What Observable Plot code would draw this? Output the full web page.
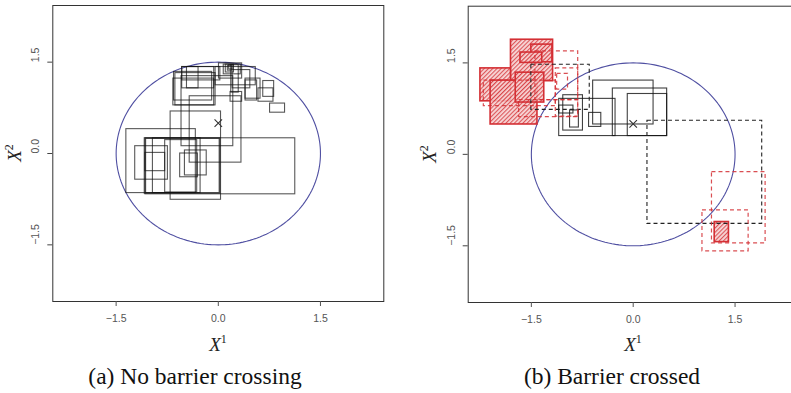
<!DOCTYPE html>
<html><head><meta charset="utf-8">
<script src="https://cdn.jsdelivr.net/npm/d3@7"></script>
<script src="https://cdn.jsdelivr.net/npm/@observablehq/plot@0.6"></script>
<style>
html,body{margin:0;padding:0;background:#fff;overflow:hidden;}
#wrap{position:relative;width:791px;height:393px;overflow:hidden;background:#fff;}
.panel{position:absolute;top:0;}
.panel svg{max-width:none !important;}
.cap{position:absolute;top:363px;font-family:"Liberation Serif","DejaVu Serif",serif;font-size:23.5px;color:#111;white-space:nowrap;transform:translateX(-50%);line-height:1.15;}
.axt{position:absolute;font-family:"Liberation Serif","DejaVu Serif",serif;font-size:19px;color:#222;white-space:nowrap;line-height:1;}
.axt i{font-style:italic;}
.axt sup{font-size:12px;vertical-align:8px;line-height:0;}
.rot{transform:translate(-50%,-50%) rotate(-90deg);}
.hor{transform:translate(-50%,-50%);}
</style>
</head><body>
<div id="wrap">
  <div class="panel" id="left" style="left:0px;width:395px"></div>
  <div class="panel" id="right" style="left:395px;width:410px"></div>
  <div class="axt hor" style="left:218px;top:344px"><i>X</i><sup>1</sup></div>
  <div class="axt rot" style="left:14px;top:153px"><i>X</i><sup>2</sup></div>
  <div class="axt hor" style="left:633px;top:344px"><i>X</i><sup>1</sup></div>
  <div class="axt rot" style="left:429px;top:154px"><i>X</i><sup>2</sup></div>
  <div class="cap" style="left:195px">(a) No barrier crossing</div>
  <div class="cap" style="left:612px">(b) Barrier crossed</div>
</div>
<script>
// ---- data: rectangles as [x1, y1, x2, y2] ----
const axisDomain = [-2.43, 2.43];
const tickValues = [-1.5, 0, 1.5];
const barrierRadius = 1.5;
const startPoint = [[0, 0.5]];

// panel (a): no barrier crossing
const pathNoCross = [
  [-1.35, -0.65, -0.33, 0.40],
  [-1.07, -0.67, 1.13, 0.25],
  [-1.08, -0.66, 0.03, 0.25],
  [-1.06, -0.65, 0.02, 0.24],
  [-0.96, -0.65, -0.26, 0.25],
  [-0.78, -0.64, -0.31, 0.22],
  [-1.22, -0.43, -0.74, 0.12],
  [-1.07, -0.29, -0.78, 0.01],
  [-0.70, -0.76, 0.04, 0.69],
  [-0.56, -0.39, -0.30, 0.00],
  [-0.49, -0.36, -0.17, 0.05],
  [-0.54, 0.12, 0.22, 1.27],
  [-0.42, -0.15, 0.34, 0.94],
  [-0.63, 0.79, -0.04, 1.32],
  [-0.66, 0.79, -0.06, 1.23],
  [-0.65, 0.87, -0.09, 1.34],
  [-0.53, 1.07, -0.06, 1.42],
  [-0.53, 1.20, 0.03, 1.42],
  [-0.46, 1.07, -0.29, 1.42],
  [-0.04, 1.12, 0.55, 1.42],
  [0.01, 1.23, 0.35, 1.48],
  [0.08, 1.30, 0.33, 1.46],
  [0.11, 1.33, 0.23, 1.46],
  [0.14, 1.36, 0.20, 1.44],
  [0.16, 1.38, 0.22, 1.45],
  [0.19, 1.00, 0.30, 1.45],
  [0.21, 1.07, 0.47, 1.37],
  [0.18, 0.85, 0.35, 1.01],
  [0.40, 0.87, 0.57, 1.20],
  [0.40, 0.90, 0.62, 1.23],
  [0.59, 0.85, 0.81, 1.07],
  [0.66, 0.93, 0.82, 1.19],
  [0.76, 0.67, 0.98, 0.82]
];

// panel (b): barrier crossed
const blackSolid = [
  [-1.09, 0.30, -0.26, 0.91],
  [-0.59, 0.49, 0.30, 1.21],
  [-0.30, 0.30, 0.50, 1.08],
  [-0.08, 0.30, 0.50, 0.99],
  [-1.03, 0.39, -0.74, 0.97],
  [-1.09, 0.67, -0.88, 0.80],
  [-0.93, 0.44, -0.80, 0.72],
  [-0.65, 0.45, -0.47, 0.68]
];
const blackDashed = [
  [0.21, -1.14, 1.90, 0.55],
  [-1.50, 0.73, -0.64, 1.47]
];
const redDashed = [
  [1.16, -1.46, 1.95, -0.29],
  [1.02, -1.59, 1.70, -0.92],
  [-1.44, 0.89, -0.81, 1.69],
  [-1.14, 0.62, -0.81, 1.41],
  [-1.12, 1.06, -0.96, 1.32],
  [-2.20, 0.79, -1.14, 1.21],
  [-1.68, 0.61, -0.81, 0.89]
];
const redHatched = [
  [-1.80, 1.20, -1.18, 1.88],
  [-1.50, 1.51, -1.19, 1.80],
  [-1.66, 1.50, -1.34, 1.67],
  [-2.25, 0.87, -1.80, 1.41],
  [-2.10, 0.49, -1.41, 1.21],
  [-1.73, 0.85, -1.31, 1.34],
  [1.20, -1.44, 1.41, -1.11]
];

// ---- helpers ----
const rectOpts = {x1: d => d[0], y1: d => d[1], x2: d => d[2], y2: d => d[3]};
const circlePts = d3.range(0, 361, 2).map(a => [barrierRadius * Math.cos(a * Math.PI / 180), barrierRadius * Math.sin(a * Math.PI / 180)]);
const fmt = d3.format(".1f");
const RED = "#d42f34";
const SANS = "Liberation Sans, Arial, sans-serif";

const hatchDefs = () => {
  const g = d3.create("svg:g");
  const p = g.append("defs").append("pattern")
    .attr("id", "hatch").attr("patternUnits", "userSpaceOnUse")
    .attr("width", 3).attr("height", 3).attr("patternTransform", "rotate(45)");
  p.append("rect").attr("width", 3).attr("height", 3).attr("fill", "#f7d3d3");
  p.append("line").attr("x1", 0.5).attr("y1", 0).attr("x2", 0.5).attr("y2", 3)
    .attr("stroke", "#d63a3e").attr("stroke-width", 1.3);
  return g.node();
};

function common() {
  return [
    Plot.line(circlePts, {x: d => d[0], y: d => d[1], stroke: "#5050a2", strokeWidth: 1.1})
  ];
}
function axes() {
  return [
    Plot.frame({stroke: "#333", strokeWidth: 1}),
    Plot.axisX({ticks: tickValues, tickSize: 5, tickPadding: 8, tickFormat: fmt, label: null, fontSize: 10.5, color: "#555", fontFamily: SANS}),
    Plot.axisY({ticks: tickValues, tickSize: 5, tickFormat: () => "", label: null, color: "#444"}),
    Plot.text(tickValues, {y: d => d, frameAnchor: "left", dx: -17, rotate: -90, text: fmt, fontSize: 10.5, fill: "#555", fontFamily: SANS})
  ];
}

const left = Plot.plot({
  width: 395, height: 355,
  marginLeft: 52.3, marginRight: 11.7, marginTop: 5, marginBottom: 54,
  x: {domain: axisDomain}, y: {domain: axisDomain},
  marks: [
    ...common(),
    Plot.rect(pathNoCross, {...rectOpts, fill: "none", stroke: "#111", strokeOpacity: 0.7, strokeWidth: 1.1}),
    Plot.dot(startPoint, {x: d => d[0], y: d => d[1], symbol: "times", r: 3.5, stroke: "#333", strokeWidth: 1.1}),
    ...axes()
  ]
});

const right = Plot.plot({
  width: 410, height: 355,
  marginLeft: 72.7, marginRight: 7.3, marginTop: 5.7, marginBottom: 53,
  x: {domain: axisDomain}, y: {domain: axisDomain},
  marks: [
    hatchDefs,
    ...common(),
    Plot.rect(redHatched, {...rectOpts, fill: "url(#hatch)", fillOpacity: 0.85, stroke: RED, strokeWidth: 1.6}),
    Plot.rect(blackSolid, {...rectOpts, fill: "none", stroke: "#111", strokeOpacity: 0.8, strokeWidth: 1.1}),
    Plot.rect(blackDashed, {...rectOpts, fill: "none", stroke: "#222", strokeWidth: 1.1, strokeDasharray: "4,3"}),
    Plot.rect(redDashed, {...rectOpts, fill: "none", stroke: RED, strokeOpacity: 0.85, strokeWidth: 1.2, strokeDasharray: "4,3"}),
    Plot.dot(startPoint, {x: d => d[0], y: d => d[1], symbol: "times", r: 3.5, stroke: "#333", strokeWidth: 1.1}),
    ...axes()
  ]
});

document.getElementById("left").append(left);
document.getElementById("right").append(right);
</script>
</body></html>
